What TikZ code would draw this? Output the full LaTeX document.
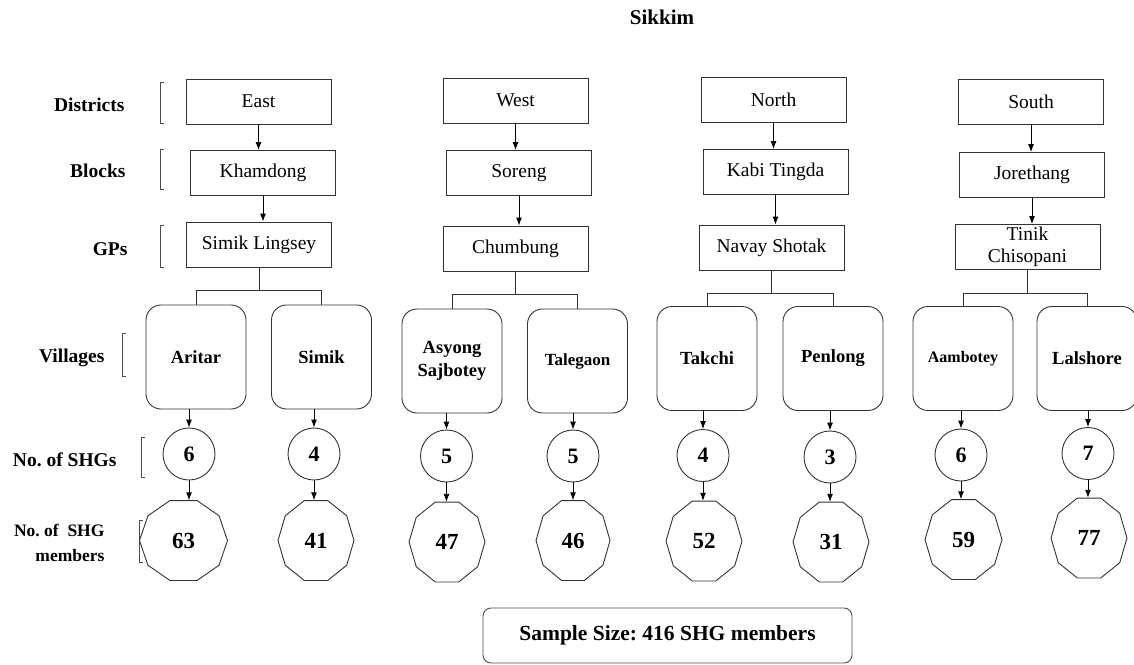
\documentclass[tikz,border=0pt]{standalone}
\usepackage{fontspec}
\setmainfont{Liberation Serif}
\usetikzlibrary{arrows.meta,calc}
\frenchspacing

% square bracket beside a level label: x, top y, bottom y
\newcommand\levelbracket[3]{\draw[brk] (#1+4,#2) -- (#1,#2) -- (#1,#3) -- (#1+4,#3);}

\begin{document}
\begin{tikzpicture}[x=1pt,y=-1pt,
  box/.style={draw=black!80, line width=0.9pt, minimum width=145pt, minimum height=45pt,
    inner sep=2pt, align=center, font=\fontsize{19.5}{22}\selectfont},
  village/.style={draw=black!80, line width=0.9pt, rounded corners=15pt, minimum width=100pt,
    minimum height=104pt, inner sep=2pt, align=center, font=\bfseries\fontsize{18.5}{23}\selectfont},
  shg/.style={circle, draw=black!80, line width=0.9pt, minimum size=52pt, inner sep=0pt,
    font=\bfseries\fontsize{22}{24}\selectfont},
  members/.style={minimum height=80pt, inner sep=0pt, font=\bfseries\fontsize{23}{24}\selectfont},
  level/.style={anchor=base east, align=right, font=\bfseries\fontsize{19.5}{22}\selectfont},
  arr/.style={-{Latex[length=8pt,width=6pt]}, line width=0.9pt},
  link/.style={line width=0.9pt, draw=black!80},
  brk/.style={draw=black!70, line width=0.9pt}
]
\useasboundingbox (0,0) rectangle (1134,664);

% title
\node[font=\bfseries\fontsize{21}{24}\selectfont] (title) at (662,17) {Sikkim};

% level labels
\node[level] (lDist) at (128,111) {Districts};
\node[level] (lBlock) at (129,177) {Blocks};
\node[level] (lGP) at (131,255) {GPs};
\node[level] (lVill) at (108,362) {Villages};
\node[level] (lSHG) at (120,466) {No. of SHGs};
\node[anchor=east, align=right, font=\bfseries\fontsize{17.5}{25}\selectfont] (lMem) at (108,543)
  {No. of \ SHG\\members};

\levelbracket{160}{82}{123}
\levelbracket{160}{149}{189}
\levelbracket{160}{225}{267}
\levelbracket{122}{333}{376}
\levelbracket{141}{437}{477}
\levelbracket{139}{520}{562}

% districts, blocks and gram panchayats
\node[box] (d1) at (258.5,101.5) {East};
\node[box] (b1) at (263,173) {Khamdong};
\node[box] (g1) at (259,244.5) {Simik Lingsey};

\node[box] (d2) at (515.5,100.5) {West};
\node[box] (b2) at (519,173) {Soreng};
\node[box] (g2) at (515.5,248.5) {Chumbung};

\node[box] (d3) at (773.5,99.5) {North};
\node[box] (b3) at (775.5,172) {Kabi Tingda};
\node[box] (g3) at (771.5,247.5) {Navay Shotak};

\node[box] (d4) at (1031,101.5) {South};
\node[box] (b4) at (1032,175) {Jorethang};
\node[box] (g4) at (1027.5,247) {Tinik\\Chisopani};

% villages
\node[village] (v1) at (196,357) {Aritar};
\node[village] (v2) at (321.5,357) {Simik};
\node[village] (v3) at (452,361) {Asyong\\Sajbotey};
\node[village, font=\bfseries\fontsize{17}{22}\selectfont] (v4) at (577.5,361) {Talegaon};
\node[village] (v5) at (707,358.5) {Takchi};
\node[village] (v6) at (833,358.5) {Penlong};
\node[village, font=\bfseries\fontsize{16}{22}\selectfont] (v7) at (963,358.5) {Aambotey};
\node[village] (v8) at (1087,358.5) {Lalshore};

% number of SHGs
\node[shg] (c1) at (189,454) {6};
\node[shg] (c2) at (314,454) {4};
\node[shg] (c3) at (446.5,456) {5};
\node[shg] (c4) at (573,456) {5};
\node[shg] (c5) at (703,455.5) {4};
\node[shg] (c6) at (830,457) {3};
\node[shg] (c7) at (961,455) {6};
\node[shg] (c8) at (1088,453.5) {7};

% number of SHG members (decagons)
\node[members, minimum width=88pt] (m1) at (183.5,540.5) {63};
\node[members, minimum width=76pt] (m2) at (316,540.5) {41};
\node[members, minimum width=76pt] (m3) at (447,542) {47};
\node[members, minimum width=74pt] (m4) at (573,540.5) {46};
\node[members, minimum width=76pt] (m5) at (704,541) {52};
\node[members, minimum width=76pt] (m6) at (831,542) {31};
\node[members, minimum width=77pt] (m7) at (963.5,539.5) {59};
\node[members, minimum width=76pt] (m8) at (1089,538) {77};

\foreach \n/\rx in {m1/44,m2/38,m3/38,m4/37,m5/38,m6/38,m7/38.5,m8/38}{
  \draw[link] ($(\n.center)+(0:\rx pt and 42pt)$)
    \foreach \a in {36,72,...,324}{ -- ($(\n.center)+(\a:\rx pt and 42pt)$)} -- cycle;
}

% connectors
\foreach \i in {1,...,4}{
  \draw[arr] (d\i.south) -- (d\i.south |- b\i.north);
  \draw[arr] (b\i.south) -- (b\i.south |- g\i.north);
}
\foreach \i/\a/\b in {1/1/2,2/3/4,3/5/6,4/7/8}{
  \draw[link] (g\i.south) -- ++(0,23) coordinate (j\i);
  \draw[link] (v\a.north) |- (j\i) -| (v\b.north);
}
\foreach \i in {1,...,8}{
  \draw[arr] (c\i.north |- v\i.south) -- (c\i.north);
  \draw[arr] (c\i.south) -- (c\i.south |- m\i.north);
}

% sample size
\node[draw=black!70, line width=0.9pt, rounded corners=8pt, minimum width=369pt, minimum height=55pt,
  font=\bfseries\fontsize{21.5}{24}\selectfont] (sample) at (667.5,635.5) {Sample Size: 416 SHG members};
\end{tikzpicture}
\end{document}
